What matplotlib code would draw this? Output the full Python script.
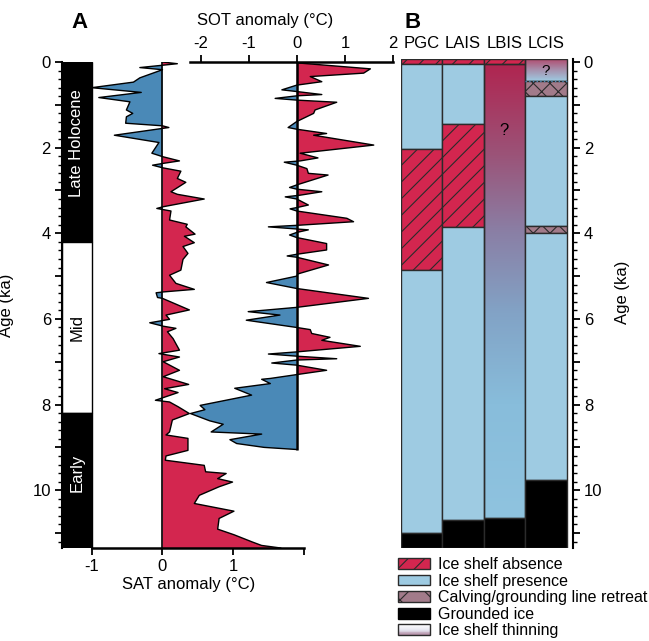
import numpy as np
import matplotlib.pyplot as plt
from matplotlib.ticker import MultipleLocator, FuncFormatter
from matplotlib.colors import LinearSegmentedColormap
from matplotlib.patches import Patch, Rectangle
from matplotlib.legend_handler import HandlerBase

plt.rcParams['font.family'] = ['Liberation Sans', 'DejaVu Sans']
plt.rcParams['axes.unicode_minus'] = False
plt.rcParams['hatch.linewidth'] = 0.8

# SAT anomaly (°C) against age (ka)
sat_age = [0.00, 0.04, 0.13, 0.18, 0.37, 0.47, 0.60, 0.71, 0.83, 0.93, 1.12, 1.20, 1.28, 1.43,
           1.49, 1.53, 1.71, 1.88, 2.13, 2.21, 2.31, 2.37, 2.41, 2.47, 2.55, 2.72, 2.81, 3.03,
           3.09, 3.20, 3.38, 3.42, 3.48, 3.69, 3.79, 3.85, 4.02, 4.07, 4.22, 4.31, 4.47, 4.61,
           4.86, 4.98, 5.17, 5.31, 5.37, 5.39, 5.50, 5.52, 5.79, 5.91, 6.01, 6.09, 6.17, 6.22,
           6.30, 6.46, 6.73, 6.81, 6.89, 7.00, 7.20, 7.35, 7.53, 7.63, 7.72, 7.90, 7.94, 8.05,
           8.21, 8.36, 8.64, 8.71, 8.79, 9.07, 9.20, 9.30, 9.42, 9.57, 9.61, 9.73, 9.81, 9.92,
           10.12, 10.31, 10.49, 10.66, 10.91, 11.04, 11.21, 11.29, 11.35]
sat_val = [0.00, 0.21, -0.32, 0.00, -0.32, -0.41, -1.00, -0.30, -0.90, -0.46, -0.51, -0.42, -0.51, -0.52,
           0.00, 0.09, -0.68, -0.05, -0.15, 0.00, 0.24, 0.00, -0.14, 0.00, 0.26, 0.21, 0.33, 0.12,
           0.21, 0.59, 0.01, -0.08, 0.12, 0.10, 0.35, 0.33, 0.46, 0.31, 0.45, 0.29, 0.36, 0.29,
           0.26, 0.10, 0.19, 0.45, 0.01, -0.09, -0.07, 0.00, 0.38, 0.05, 0.10, -0.18, 0.01, 0.19,
           0.07, 0.15, 0.24, -0.05, 0.24, 0.01, 0.24, 0.01, 0.37, 0.03, 0.22, -0.10, 0.10, 0.22,
           0.38, 0.14, 0.10, 0.05, 0.36, 0.36, 0.05, 0.04, 0.59, 0.61, 0.90, 0.78, 0.99, 0.80,
           0.52, 0.45, 1.01, 0.80, 0.78, 1.01, 1.27, 1.40, 1.67]

# SOT anomaly (°C) against age (ka)
sot_age = [0.02, 0.16, 0.26, 0.34, 0.46, 0.54, 0.65, 0.69, 0.76, 0.79, 0.85, 0.89, 0.94, 1.12,
           1.20, 1.39, 1.53, 1.57, 1.67, 1.71, 1.94, 2.13, 2.24, 2.31, 2.34, 2.41, 2.49, 2.60,
           2.64, 2.87, 2.93, 2.97, 3.03, 3.11, 3.15, 3.20, 3.34, 3.40, 3.43, 3.48, 3.65, 3.73,
           3.81, 3.85, 3.90, 3.92, 3.98, 4.04, 4.10, 4.24, 4.39, 4.49, 4.53, 4.56, 4.74, 4.95,
           5.00, 5.15, 5.29, 5.52, 5.73, 5.83, 5.91, 6.03, 6.20, 6.25, 6.34, 6.43, 6.50, 6.64,
           6.77, 6.82, 6.87, 6.93, 6.96, 7.03, 7.08, 7.20, 7.30, 7.39, 7.41, 7.51, 7.62, 7.78,
           8.02, 8.12, 8.21, 8.38, 8.46, 8.64, 8.69, 8.82, 8.91, 9.00, 9.05]
sot_val = [0.00, 1.53, 1.39, 0.28, 0.52, 0.00, -0.31, 0.00, 0.52, 0.00, -0.45, 0.00, 0.83, 0.38,
           0.35, 0.00, -0.18, 0.00, 0.62, 0.35, 1.60, 0.07, 0.44, 0.07, -0.26, 0.00, 0.21, 0.24,
           0.65, 0.00, -0.15, 0.00, 0.52, 0.07, -0.24, 0.00, 0.24, 0.00, -0.14, 0.00, 1.04, 1.18,
           0.07, -0.59, 0.00, 0.24, 0.00, -0.15, 0.00, 0.62, 0.62, 0.00, -0.20, 0.00, 0.66, 0.02,
           0.00, -0.63, 0.00, 1.49, 0.00, -1.01, -0.35, -1.05, 0.00, 0.28, 0.31, 0.69, 0.52, 1.32,
           0.00, -0.59, 0.00, 0.83, 0.00, -0.52, 0.00, 0.62, 0.00, -0.55, -0.73, -0.55, -1.29, -0.94,
           -2.01, -1.91, -2.21, -1.81, -1.53, -1.78, -0.73, -1.39, -1.25, -0.68, 0.00]

periods = ['Late Holocene', 'Mid', 'Early']
period_edges = [0, 4.2, 8.2, 11.35]
period_text_y = [1.9, 6.2, 9.6]

cores = ['PGC', 'LAIS', 'LBIS', 'LCIS']
pgc_edges = [-0.08, 0.04, 2.03, 4.85, 11.0, 11.35]
pgc_state = ['absence', 'presence', 'absence', 'presence', 'grounded']
lais_edges = [-0.08, 0.04, 1.45, 3.85, 10.7, 11.35]
lais_state = ['absence', 'presence', 'absence', 'presence', 'grounded']
lbis_edges = [-0.08, 0.04, 10.65, 11.35]
lbis_state = ['absence', 'fade', 'grounded']
lcis_edges = [-0.08, 0.44, 0.8, 3.82, 4.0, 9.77, 11.35]
lcis_state = ['thinning', 'calving', 'presence', 'calving', 'presence', 'grounded']

RED = '#d3264f'
BLUE = '#4a89b7'
ICE = '#9ecbe2'
MAUVE = '#a27b8a'
EDGE = '#2b2b2b'

W, H = 649, 641


def box(l, t, r, b):
    return [l / W, 1 - b / H, (r - l) / W, (b - t) / H]


class GradientHandler(HandlerBase):
    # legend key drawn as a stack of thin bands, white on top to mauve below
    def create_artists(self, legend, orig, xd, yd, width, height, fontsize, trans):
        cmap = LinearSegmentedColormap.from_list('leg', ['#ffffff', '#e6e6f0', '#b490a8'])
        n = 12
        arts = []
        for k in range(n):
            r = Rectangle((-xd, -yd + height * (n - 1 - k) / n), width, height / n,
                          facecolor=cmap(k / (n - 1)), edgecolor='none', transform=trans)
            arts.append(r)
        arts.append(Rectangle((-xd, -yd), width, height, facecolor='none',
                              edgecolor=EDGE, lw=1, transform=trans))
        return arts


fig = plt.figure(figsize=(W / 100, H / 100), dpi=100)
ax1 = fig.add_axes(box(62, 62, 304, 548))
ax2 = fig.add_axes(box(190, 62, 393, 548))
ax3 = fig.add_axes(box(400.7, 58.6, 572.7, 548))

# ---- panel A: SAT
sa = np.array(sat_age)
sv = np.array(sat_val)
ax1.fill_betweenx(sa, 0, sv, where=sv >= 0, interpolate=True, color=RED, lw=0)
ax1.fill_betweenx(sa, 0, sv, where=sv <= 0, interpolate=True, color=BLUE, lw=0)
ax1.plot(sv, sa, color='black', lw=1)
ax1.axvline(0, color='black', lw=1.2)

for i, name in enumerate(periods):
    c = 'black' if name != 'Mid' else 'white'
    ax1.barh(period_edges[i], 0.42, left=-1.42, height=period_edges[i + 1] - period_edges[i],
             align='edge', color=c, edgecolor='black', lw=1)
    ax1.text(-1.21, period_text_y[i], name, rotation=90, ha='center', va='center',
             fontsize=12, color='white' if c == 'black' else 'black')

ax1.set_xlim(-1.42, 2)
ax1.set_ylim(period_edges[-1], 0)
for s in ['top', 'right']:
    ax1.spines[s].set_visible(False)
ax1.spines['bottom'].set_bounds(-1, 2)
ax1.spines['bottom'].set_linewidth(1.8)
ax1.spines['left'].set_linewidth(1.5)
ax1.set_xticks([-1, 0, 1, 2])
ax1.set_xticklabels(['-1', '0', '1', ''])
ax1.yaxis.set_major_locator(MultipleLocator(1))
ax1.yaxis.set_minor_locator(MultipleLocator(0.2))
even = FuncFormatter(lambda v, p: '%d' % v if round(v) % 2 == 0 else '')
ax1.yaxis.set_major_formatter(even)
ax1.tick_params(axis='both', labelsize=12, width=1.3, length=5, pad=3)
ax1.tick_params(axis='y', which='minor', width=1, length=3)
ax1.set_xlabel('SAT anomaly (°C)', fontsize=12)
ax1.xaxis.set_label_coords((189 - 62) / 242, -0.06)
ax1.set_ylabel('Age (ka)', fontsize=12)
ax1.yaxis.set_label_coords(-(62 - 14) / 242, 0.5)

# ---- panel A: SOT
ta = np.array(sot_age)
tv = np.array(sot_val)
ax2.set_facecolor('none')
ax2.fill_betweenx(ta, 0, tv, where=tv >= 0, interpolate=True, color=RED, lw=0)
ax2.fill_betweenx(ta, 0, tv, where=tv <= 0, interpolate=True, color=BLUE, lw=0)
ax2.plot(tv, ta, color='black', lw=1)
ax2.vlines(0, 0, ta.max(), color='black', lw=1.8)
ax2.set_xlim(-2.22, 2.0)
ax2.set_ylim(period_edges[-1], 0)
for s in ['bottom', 'left', 'right']:
    ax2.spines[s].set_visible(False)
ax2.spines['top'].set_linewidth(1.8)
ax2.xaxis.tick_top()
ax2.xaxis.set_label_position('top')
ax2.set_xticks([-2, -1, 0, 1, 2])
ax2.set_xticklabels(['-2', '-1', '0', '1', '2'])
ax2.set_yticks([])
ax2.tick_params(axis='x', labelsize=12, width=1.3, length=5, pad=3)
ax2.set_xlabel('SOT anomaly (°C)', fontsize=12)
ax2.xaxis.set_label_coords((265 - 190) / 203, 1 + (62 - 25) / 486)

# ---- panel B
styles = {
    'absence': dict(color=RED, hatch='//'),
    'presence': dict(color=ICE, hatch=None),
    'calving': dict(color=MAUVE, hatch='xx'),
    'grounded': dict(color='black', hatch=None),
}
fade_cmap = LinearSegmentedColormap.from_list(
    'fade', [(0, '#b02550'), (0.2, '#9b5378'), (0.37, '#8a7fa5'), (0.55, '#82a3c6'),
             (0.75, '#88bddb'), (1, '#8fc3df')])
thin_cmap = LinearSegmentedColormap.from_list('thin', ['#b2466b', '#a78fac', ICE])
grad = np.linspace(0, 1, 256).reshape(-1, 1)

columns = [(pgc_edges, pgc_state), (lais_edges, lais_state),
           (lbis_edges, lbis_state), (lcis_edges, lcis_state)]
for i, (edges, states) in enumerate(columns):
    for j, st in enumerate(states):
        top, bot = edges[j], edges[j + 1]
        if st in ('fade', 'thinning'):
            cmap = fade_cmap if st == 'fade' else thin_cmap
            ax3.imshow(grad, extent=[i, i + 1, bot, top], aspect='auto', cmap=cmap,
                       origin='upper', zorder=1)
            ax3.bar(i, bot - top, bottom=top, width=1, align='edge', fill=False,
                    edgecolor=EDGE, lw=1, zorder=2)
        else:
            sty = styles[st]
            ax3.bar(i, bot - top, bottom=top, width=1, align='edge', color=sty['color'],
                    hatch=sty['hatch'], edgecolor=EDGE, lw=1, zorder=2)
    ax3.text(i + 0.5, -0.25, cores[i], ha='center', va='bottom', fontsize=12)

ax3.axhline(lcis_edges[1], xmin=3 / 4.145, xmax=4 / 4.145, color='#4a89b7', lw=1,
            ls=':', zorder=3)
ax3.text(2.5, 1.6, '?', ha='center', va='center', fontsize=12, zorder=3)
ax3.text(3.5, 0.2, '?', ha='center', va='center', fontsize=11, zorder=3)

ax3.set_xlim(0, 4.145)
ax3.set_ylim(11.35, -0.08)
for s in ['top', 'left', 'bottom']:
    ax3.spines[s].set_visible(False)
ax3.spines['right'].set_linewidth(1.5)
ax3.set_xticks([])
ax3.yaxis.tick_right()
ax3.yaxis.set_label_position('right')
ax3.yaxis.set_major_locator(MultipleLocator(1))
ax3.yaxis.set_minor_locator(MultipleLocator(0.2))
ax3.yaxis.set_major_formatter(even)
ax3.tick_params(axis='y', labelsize=12, width=1.3, length=5, pad=3)
ax3.tick_params(axis='y', which='minor', width=1, length=3)
ax3.set_ylabel('Age (ka)', fontsize=12)
ax3.yaxis.set_label_coords((615 - 400.7) / 172, 0.523)

thin_key = Patch(label='Ice shelf thinning')
handles = [
    Patch(facecolor=RED, edgecolor=EDGE, hatch='//', label='Ice shelf absence'),
    Patch(facecolor=ICE, edgecolor=EDGE, label='Ice shelf presence'),
    Patch(facecolor=MAUVE, edgecolor=EDGE, hatch='x', label='Calving/grounding line retreat'),
    Patch(facecolor='black', edgecolor='black', label='Grounded ice'),
    thin_key,
]
fig.legend(handles=handles, loc='upper left', bbox_to_anchor=(398 / W, 1 - 557 / H),
           frameon=False, fontsize=11.5, handlelength=2.0, handleheight=0.65,
           handletextpad=0.5, labelspacing=0.1, borderpad=0, borderaxespad=0,
           handler_map={thin_key: GradientHandler()})

fig.text(80 / W, 1 - 22 / H, 'A', fontsize=16, fontweight='bold', ha='center', va='center')
fig.text(413 / W, 1 - 22 / H, 'B', fontsize=16, fontweight='bold', ha='center', va='center')

fig.savefig('out.png', dpi=100)
